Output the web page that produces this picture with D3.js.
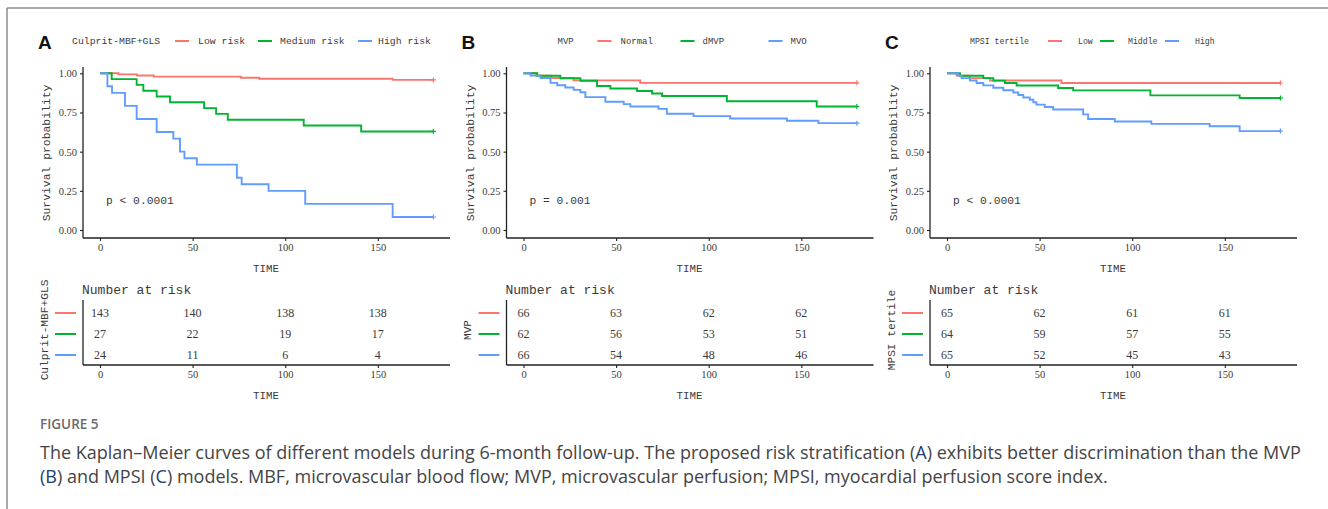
<!DOCTYPE html>
<html><head><meta charset="utf-8">
<script src="https://cdn.jsdelivr.net/npm/d3@7/dist/d3.min.js"></script>
<style>
html,body{margin:0;padding:0;background:#fff;}
svg{display:block;}
</style></head>
<body>
<svg id="chart" width="1328" height="509"></svg>
<script>
// ---------- DATA ----------
const timeTicks = [0, 50, 100, 150];
const survTicks = [0, 0.25, 0.5, 0.75, 1];
const survTickLabels = ["0.00", "0.25", "0.50", "0.75", "1.00"];

const panelLetters = ["A", "B", "C"];
const legendTitles = ["Culprit-MBF+GLS", "MVP", "MPSI tertile"];
const groupNamesA = ["Low risk", "Medium risk", "High risk"];
const groupNamesB = ["Normal", "dMVP", "MVO"];
const groupNamesC = ["Low", "Middle", "High"];
const pValues = ["p < 0.0001", "p = 0.001", "p < 0.0001"];
const tableTitles = ["Culprit-MBF+GLS", "MVP", "MPSI tertile"];

// Panel A step curves (time, survival)
const aLowTime = [0, 10, 20, 29, 76, 86, 158, 180];
const aLowSurv = [1, 0.993, 0.986, 0.979, 0.972, 0.965, 0.958, 0.958];
const aMedTime = [0, 6.3, 19.8, 23.4, 30.6, 37.8, 56.2, 62.7, 69, 110, 141, 180];
const aMedSurv = [1, 0.963, 0.926, 0.889, 0.852, 0.815, 0.778, 0.741, 0.704, 0.667, 0.629, 0.629];
const aHighTime = [0, 4, 6.5, 13.5, 19.8, 30.6, 39.6, 43.2, 45.6, 52.3, 73.9, 76.5, 91, 110.8, 158, 180];
const aHighSurv = [1, 0.917, 0.875, 0.792, 0.708, 0.625, 0.583, 0.5, 0.458, 0.417, 0.333, 0.292, 0.25, 0.167, 0.083, 0.083];

// Panel B
const bNormTime = [0, 7, 15, 27, 63, 180];
const bNormSurv = [1, 0.985, 0.970, 0.955, 0.939, 0.939];
const bDmvpTime = [0, 7.4, 19.9, 30.7, 39.7, 46.9, 61.3, 69.4, 74.8, 109.8, 158.3, 180];
const bDmvpSurv = [1, 0.984, 0.968, 0.952, 0.919, 0.903, 0.887, 0.871, 0.855, 0.822, 0.788, 0.788];
const bMvoTime = [0, 3.8, 9.2, 14.6, 18.2, 22.6, 27.1, 30.7, 33.4, 44.2, 54.1, 57.7, 72.9, 77.4, 91.8, 111.6, 142.2, 159.2, 180];
const bMvoSurv = [1, 0.985, 0.970, 0.939, 0.924, 0.909, 0.894, 0.879, 0.848, 0.818, 0.803, 0.788, 0.773, 0.742, 0.727, 0.712, 0.697, 0.682, 0.682];

// Panel C
const cLowTime = [0, 5.2, 12.4, 23.2, 61.8, 180];
const cLowSurv = [1, 0.985, 0.969, 0.954, 0.938, 0.938];
const cMidTime = [0, 7.0, 19.6, 25.0, 31.3, 37.6, 60.0, 68.1, 109.8, 158, 180];
const cMidSurv = [1, 0.984, 0.969, 0.953, 0.938, 0.922, 0.906, 0.891, 0.859, 0.842, 0.842];
const cHighTime = [0, 6.1, 7.9, 12.4, 16.0, 19.6, 25.0, 30.4, 35.8, 38.5, 41.2, 44.7, 46.6, 48.3, 52.8, 57.3, 73.5, 76.2, 90.6, 110.3, 141.8, 158.0, 180];
const cHighSurv = [1, 0.985, 0.969, 0.954, 0.938, 0.923, 0.908, 0.892, 0.877, 0.862, 0.846, 0.831, 0.815, 0.8, 0.785, 0.769, 0.738, 0.708, 0.692, 0.677, 0.662, 0.631, 0.631];

// Numbers at risk at timeTicks
const aRisk = [[143, 140, 138, 138], [27, 22, 19, 17], [24, 11, 6, 4]];
const bRisk = [[66, 63, 62, 62], [62, 56, 53, 51], [66, 54, 48, 46]];
const cRisk = [[65, 62, 61, 61], [64, 59, 57, 55], [65, 52, 45, 43]];

const captionTitle = "FIGURE 5";
const captionLine1 = ["The Kaplan\u2013Meier curves of different models during 6-month follow-up. The proposed risk stratification (", "A", ") exhibits better discrimination than the MVP"];
const captionLine2 = ["(", "B", ") and MPSI (", "C", ") models. MBF, microvascular blood flow; MVP, microvascular perfusion; MPSI, myocardial perfusion score index."];

// ---------- STYLE ----------
const colors = ["#F8766D", "#00B52F", "#619CFF"];
const monoFont = "'Liberation Mono', 'DejaVu Sans Mono', monospace";
const serifFont = "'Liberation Serif', 'DejaVu Serif', serif";
const textCol = "#3a3a3a";

const svg = d3.select("#chart");

// frame lines
svg.append("line").attr("x1", 7).attr("x2", 1328).attr("y1", 8).attr("y2", 8).attr("stroke", "#8c8c8c").attr("stroke-width", 1.5);
svg.append("line").attr("x1", 7).attr("x2", 7).attr("y1", 8).attr("y2", 509).attr("stroke", "#8c8c8c").attr("stroke-width", 1.5);

const panels = [
  { curves: [[aLowTime, aLowSurv], [aMedTime, aMedSurv], [aHighTime, aHighSurv]], names: groupNamesA, risk: aRisk,
    legendPos: { title: 72, keys: [175, 258, 358], labels: [198, 280, 378] }, titleSize: 9.8, labelSize: 9.8 },
  { curves: [[bNormTime, bNormSurv], [bDmvpTime, bDmvpSurv], [bMvoTime, bMvoSurv]], names: groupNamesB, risk: bRisk,
    legendPos: { title: 134, keys: [174, 257, 345], labels: [197, 279, 367] }, titleSize: 9, labelSize: 9 },
  { curves: [[cLowTime, cLowSurv], [cMidTime, cMidSurv], [cHighTime, cHighSurv]], names: groupNamesC, risk: cRisk,
    legendPos: { title: 123, keys: [201, 253, 318], labels: [231, 281, 348] }, titleSize: 8.2, labelSize: 8.2 }
];
const panelOffsets = [0, 423.5, 847];

panels.forEach((p, i) => {
  const g = svg.append("g").attr("transform", `translate(${panelOffsets[i]},0)`);
  const x = d3.scaleLinear().domain([0, 180]).range([100, 433.4]);
  const y = d3.scaleLinear().domain([0, 1]).range([230, 73.3]);

  // panel letter
  g.append("text").attr("x", 38).attr("y", 42).attr("dy", "0.35em")
    .attr("font-family", "'Liberation Sans', Arial, sans-serif").attr("font-weight", "bold")
    .attr("font-size", 19).attr("fill", "#111").text(panelLetters[i]);

  // legend
  const lp = p.legendPos;
  g.append("text").attr("x", lp.title).attr("y", 41).attr("dy", "0.35em")
    .attr("font-family", monoFont).attr("font-size", p.titleSize).attr("fill", textCol).text(legendTitles[i]);
  p.names.forEach((nm, k) => {
    g.append("line").attr("x1", lp.keys[k]).attr("x2", lp.keys[k] + 14).attr("y1", 41).attr("y2", 41)
      .attr("stroke", colors[k]).attr("stroke-width", 2);
    g.append("text").attr("x", lp.labels[k]).attr("y", 41).attr("dy", "0.35em")
      .attr("font-family", monoFont).attr("font-size", p.labelSize).attr("fill", textCol).text(nm);
  });

  // axes lines
  g.append("line").attr("x1", 83).attr("x2", 83).attr("y1", 67).attr("y2", 238).attr("stroke", "#222").attr("stroke-width", 1.3);
  g.append("line").attr("x1", 83).attr("x2", 450).attr("y1", 238).attr("y2", 238).attr("stroke", "#222").attr("stroke-width", 1.3);

  // y ticks
  const yAx = g.append("g").attr("transform", "translate(83,0)")
    .call(d3.axisLeft(y).tickValues(survTicks).tickFormat((d, j) => survTickLabels[j]).tickSize(3).tickPadding(3));
  yAx.select(".domain").remove();
  yAx.selectAll("line").attr("stroke", "#222").attr("stroke-width", 1.1);
  yAx.selectAll("text").attr("font-family", serifFont).attr("font-size", 10.5).attr("fill", textCol);

  // x ticks
  const xAx = g.append("g").attr("transform", "translate(0,238)")
    .call(d3.axisBottom(x).tickValues(timeTicks).tickSize(3).tickPadding(3));
  xAx.select(".domain").remove();
  xAx.selectAll("line").attr("stroke", "#222").attr("stroke-width", 1.1);
  xAx.selectAll("text").attr("font-family", serifFont).attr("font-size", 10.5).attr("fill", textCol);

  // axis titles
  g.append("text").attr("x", 266).attr("y", 268).attr("dy", "0.35em").attr("text-anchor", "middle")
    .attr("font-family", monoFont).attr("font-size", 10.8).attr("fill", textCol).text("TIME");
  g.append("text").attr("transform", "translate(46,153) rotate(-90)").attr("dy", "0.35em").attr("text-anchor", "middle")
    .attr("font-family", monoFont).attr("font-size", 11.4).attr("fill", textCol).text("Survival probability");

  // curves
  const line = d3.line().curve(d3.curveStepAfter).x(d => x(d[0])).y(d => y(d[1]));
  p.curves.forEach((c, k) => {
    const pts = c[0].map((t, j) => [t, c[1][j]]);
    g.append("path").datum(pts).attr("d", line).attr("fill", "none")
      .attr("stroke", colors[k]).attr("stroke-width", 1.9);
    const last = pts[pts.length - 1];
    g.append("path").attr("transform", `translate(${x(last[0])},${y(last[1])})`)
      .attr("d", "M-2.5,0H2.5M0,-2.5V2.5").attr("stroke", colors[k]).attr("stroke-width", 1.2);
  });

  // p-value
  g.append("text").attr("x", 106).attr("y", 200).attr("dy", "0.35em")
    .attr("font-family", monoFont).attr("font-size", 11.3).attr("fill", textCol).text(pValues[i]);

  // ---- risk table ----
  const rowY = d3.scalePoint().domain([0, 1, 2]).range([313, 355]);
  g.append("text").attr("x", 82).attr("y", 289).attr("dy", "0.35em")
    .attr("font-family", monoFont).attr("font-size", 13).attr("fill", textCol).text("Number at risk");
  g.append("line").attr("x1", 83).attr("x2", 83).attr("y1", 300).attr("y2", 365).attr("stroke", "#222").attr("stroke-width", 1.3);
  g.append("line").attr("x1", 83).attr("x2", 450).attr("y1", 365).attr("y2", 365).attr("stroke", "#222").attr("stroke-width", 1.3);
  const tAx = g.append("g").attr("transform", "translate(0,365)")
    .call(d3.axisBottom(x).tickValues(timeTicks).tickSize(3).tickPadding(3));
  tAx.select(".domain").remove();
  tAx.selectAll("line").attr("stroke", "#222").attr("stroke-width", 1.1);
  tAx.selectAll("text").attr("font-family", serifFont).attr("font-size", 10.5).attr("fill", textCol);
  g.append("text").attr("x", 266).attr("y", 395).attr("dy", "0.35em").attr("text-anchor", "middle")
    .attr("font-family", monoFont).attr("font-size", 10.8).attr("fill", textCol).text("TIME");

  p.risk.forEach((row, k) => {
    g.append("line").attr("x1", 55).attr("x2", 76).attr("y1", rowY(k)).attr("y2", rowY(k))
      .attr("stroke", colors[k]).attr("stroke-width", 2);
    row.forEach((v, j) => {
      g.append("text").attr("x", x(timeTicks[j])).attr("y", rowY(k)).attr("dy", "0.35em").attr("text-anchor", "middle")
        .attr("font-family", serifFont).attr("font-size", 12).attr("fill", textCol).text(v);
    });
  });
  g.append("text").attr("transform", "translate(44,330) rotate(-90)").attr("dy", "0.35em").attr("text-anchor", "middle")
    .attr("font-family", monoFont).attr("font-size", 11.2).attr("fill", textCol).text(tableTitles[i]);
});

// ---------- CAPTION ----------
const capFont = "'Open Sans', 'Noto Sans', sans-serif";
svg.append("text").attr("x", 40).attr("y", 424).attr("dy", "0.35em")
  .attr("font-family", capFont).attr("font-weight", 600).attr("font-size", 13.5).attr("fill", "#6a6a6a").text(captionTitle);

function capLine(parts, yy) {
  const t = svg.append("text").attr("x", 40).attr("y", yy).attr("dy", "0.35em")
    .attr("font-family", capFont).attr("font-size", 15).attr("fill", "#444");
  parts.forEach(s => {
    const ts = t.append("tspan").text(s);
    if (s.length === 1) ts.attr("fill", "#1f3d6b");
  });
  return t;
}
const l1 = capLine(captionLine1, 453);
const l2 = capLine(captionLine2, 477);
// fit first caption line to reference width
const w1 = l1.node().getComputedTextLength();
const fs = 15 * 1262 / w1;
l1.attr("font-size", fs);
l2.attr("font-size", fs);
</script>
</body></html>
